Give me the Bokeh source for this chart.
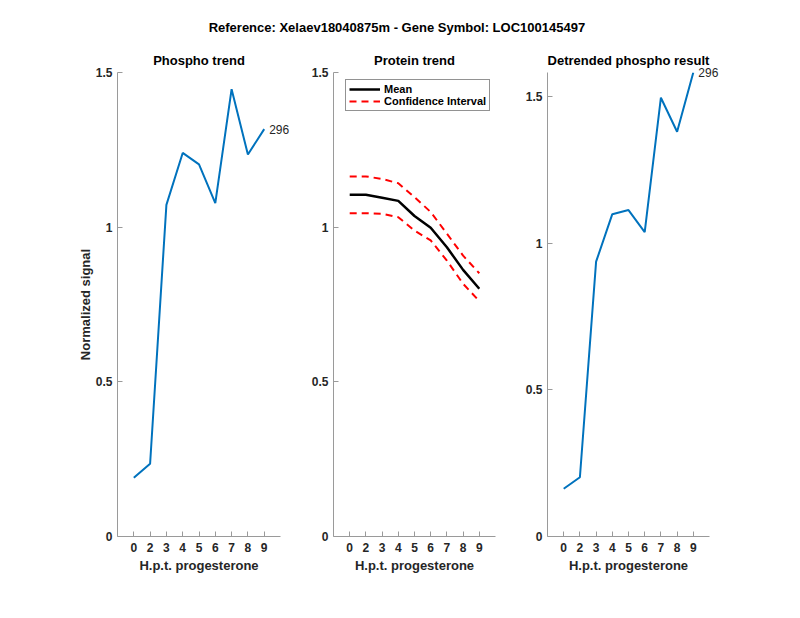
from bokeh.plotting import figure
from bokeh.layouts import row, column
from bokeh.models import FixedTicker, Range1d, Legend, LegendItem
from bokeh.core.properties import value
from bokeh.embed import file_html
from bokeh.resources import INLINE

# ---- data ----
hours = ["0", "2", "3", "4", "5", "6", "7", "8", "9"]
pos = [1, 2, 3, 4, 5, 6, 7, 8, 9]
phospho = [0.190, 0.235, 1.072, 1.240, 1.203, 1.078, 1.446, 1.235, 1.317]
protein_mean = [1.105, 1.105, 1.095, 1.085, 1.036, 0.998, 0.935, 0.862, 0.801]
protein_upper = [1.164, 1.164, 1.156, 1.142, 1.097, 1.049, 0.979, 0.908, 0.851]
protein_lower = [1.045, 1.045, 1.043, 1.032, 0.989, 0.957, 0.892, 0.817, 0.761]
detrended = [0.163, 0.202, 0.937, 1.099, 1.113, 1.038, 1.496, 1.380, 1.582]
peptide_id = "296"
yticks = [0, 0.5, 1, 1.5]
ytick_labels = ["0", "0.5", "1", "1.5"]
suptitle = "Reference:  Xelaev18040875m - Gene Symbol:  LOC100145497"
titles = ["Phospho trend", "Protein trend", "Detrended phospho result"]
xlabel = "H.p.t. progesterone"
ylabel = "Normalized signal"

FONT = "Liberation Sans"
TXT = "#262626"
AX = "#9a9a9a"
BLUE = "#0072BD"

TOPFIG_H = 40
H = 570
TOP = 32
FRAME_H = 464
BOTTOM = H - TOP - FRAME_H

# ---- suptitle strip ----
ptop = figure(width=792, height=TOPFIG_H, output_backend="svg", toolbar_location=None,
              min_border_left=8, min_border_right=0, min_border_top=34, min_border_bottom=0,
              x_range=Range1d(0, 1), y_range=Range1d(0, 1))
ptop.axis.visible = False
ptop.grid.visible = False
ptop.outline_line_color = None
ptop.title.text = suptitle
ptop.title.align = "center"
ptop.title.text_font = FONT
ptop.title.text_font_size = "13px"
ptop.title.text_font_style = "bold"
ptop.title.text_color = "#000000"
ptop.title.standoff = 0


def make_fig(width, left, right, ymax, title):
    p = figure(width=width, height=H, output_backend="svg", toolbar_location=None,
               x_range=Range1d(0, 10), y_range=Range1d(0, ymax),
               min_border_left=left, min_border_right=right,
               min_border_top=TOP, min_border_bottom=BOTTOM)
    p.outline_line_color = None
    p.xgrid.visible = False
    p.ygrid.visible = False
    p.title.text = title
    p.title.align = "center"
    p.title.text_font = FONT
    p.title.text_font_size = "13px"
    p.title.text_font_style = "bold"
    p.title.text_color = "#000000"
    p.title.standoff = 10
    for ax in (p.xaxis[0], p.yaxis[0]):
        ax.axis_line_color = AX
        ax.major_tick_line_color = AX
        ax.major_tick_in = 5
        ax.major_tick_out = 0
        ax.minor_tick_line_color = None
        ax.major_label_text_font = FONT
        ax.major_label_text_font_size = "12px"
        ax.major_label_text_font_style = "bold"
        ax.major_label_text_color = TXT
        ax.axis_label_text_font = FONT
        ax.axis_label_text_font_size = "13px"
        ax.axis_label_text_font_style = "bold"
        ax.axis_label_text_color = TXT
    p.xaxis.ticker = FixedTicker(ticks=pos)
    p.xaxis.major_label_overrides = {pp: h for pp, h in zip(pos, hours)}
    p.xaxis.axis_label = xlabel
    p.xaxis.major_label_standoff = 6
    p.xaxis.axis_label_standoff = 3
    p.yaxis.ticker = FixedTicker(ticks=yticks)
    p.yaxis.major_label_overrides = {t: l for t, l in zip(yticks, ytick_labels)}
    p.yaxis.major_label_standoff = 5
    return p


def end_label(p, ys):
    p.text(x=[pos[-1]], y=[ys[-1]], text=[peptide_id], x_offset=5, level="overlay",
           text_baseline="middle", text_font=value(FONT), text_font_size="12px",
           text_color=TXT)


# Panel 1
p1 = make_fig(306, 117, 26, 1.5, titles[0])
p1.yaxis.axis_label = ylabel
p1.yaxis.axis_label_standoff = 0
p1.line(pos, phospho, line_color=BLUE, line_width=2)
end_label(p1, phospho)

# Panel 2
p2 = make_fig(214, 27, 25, 1.5, titles[1])
r_mean = p2.line(pos, protein_mean, line_color="black", line_width=2.5)
r_up = p2.line(pos, protein_upper, line_color="#FF0000", line_width=2, line_dash="7 5")
p2.line(pos, protein_lower, line_color="#FF0000", line_width=2, line_dash="7 5")
legend = Legend(items=[LegendItem(label="Mean", renderers=[r_mean]),
                       LegendItem(label="Confidence Interval", renderers=[r_up])],
                location=(12, 425), orientation="vertical",
                label_text_font=FONT, label_text_font_size="11px",
                label_text_font_style="bold", label_text_color="#000000",
                glyph_width=31, glyph_height=12, label_height=12,
                label_standoff=4, padding=3, spacing=0, margin=0,
                border_line_color="#262626", border_line_width=1,
                background_fill_color="white", background_fill_alpha=1)
p2.add_layout(legend)

# Panel 3
p3 = make_fig(272, 27, 83, detrended[-1], titles[2])
p3.line(pos, detrended, line_color=BLUE, line_width=2)
end_label(p3, detrended)

layout = column(ptop, row(p1, p2, p3))
open("out.html", "w").write(file_html(layout, INLINE))
